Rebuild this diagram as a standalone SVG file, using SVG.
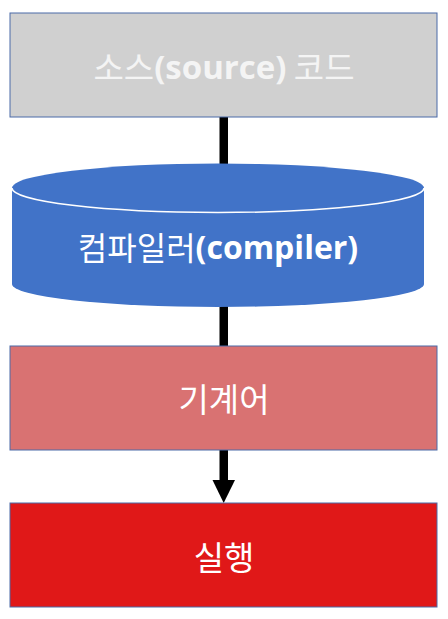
<svg xmlns="http://www.w3.org/2000/svg" width="448" height="619" viewBox="0 0 448 619">
<style>
.lbl{font-family:"Noto Sans CJK KR","Noto Sans",sans-serif;fill:#ffffff;text-anchor:middle;dominant-baseline:central}
.lat{font-family:"Open Sans","Noto Sans",sans-serif;font-weight:bold}
.box{stroke:#4a6aa8;stroke-width:1}
.conn{fill:#000000}
</style>
<rect width="448" height="619" fill="#ffffff"/>
<g id="connectors">
<rect class="conn" x="219.5" y="117" width="8.5" height="50"/>
<rect class="conn" x="219.5" y="305" width="8.5" height="42"/>
<rect class="conn" x="219.5" y="450" width="8.5" height="32"/>
<polygon class="conn" points="212.5,480 235,480 223.7,503"/>
</g>
<g id="source">
<rect class="box" x="10" y="13" width="427" height="104" fill="#d0d0d0"/>
<text class="lbl" x="224" y="66" font-size="33" style="fill:#f4f4f4">소스<tspan class="lat">(source)</tspan> 코드</text>
</g>
<g id="compiler">
<path d="M12,188 L12,284 A206,23 0 0 0 424,284 L424,188 Z" fill="#4173c8"/>
<ellipse cx="218" cy="188" rx="206" ry="24.5" fill="#4173c8"/>
<path d="M12,188 A206,24.5 0 0 0 424,188" fill="none" stroke="#ffffff" stroke-width="1.5"/>
<text class="lbl" x="218" y="246" font-size="32">컴파일러<tspan class="lat">(compiler)</tspan></text>
</g>
<g id="machine">
<rect class="box" x="10" y="346" width="427" height="104" fill="#d97272"/>
<text class="lbl" x="224" y="398" font-size="33">기계어</text>
</g>
<g id="run">
<rect class="box" x="10" y="503" width="427" height="104" fill="#e01818"/>
<text class="lbl" x="224" y="556" font-size="33">실행</text>
</g>
</svg>
